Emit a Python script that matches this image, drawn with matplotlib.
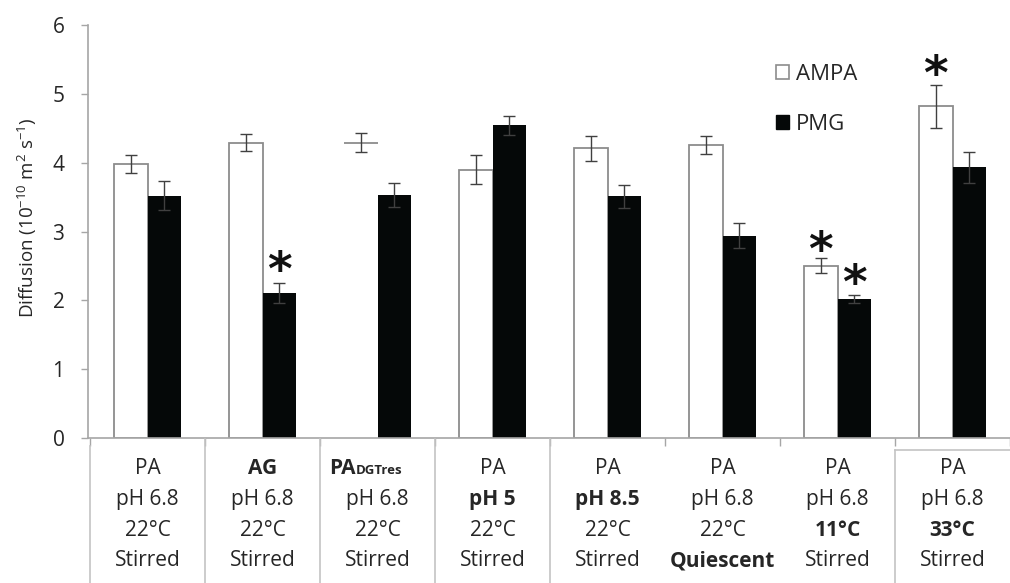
import numpy as np
import matplotlib
matplotlib.use('Agg')
import matplotlib.pyplot as plt
import matplotlib.transforms as mtransforms
from matplotlib.patches import Patch
from matplotlib.lines import Line2D

plt.rcParams['font.family'] = ['Open Sans', 'DejaVu Sans']
plt.rcParams['mathtext.fontset'] = 'custom'
plt.rcParams['mathtext.rm'] = 'Open Sans'
plt.rcParams['mathtext.it'] = 'Open Sans'
plt.rcParams['mathtext.bf'] = 'Open Sans:bold'

# Diffusion coefficients (1e-10 m2/s) and their errors, one value per condition
ampa = [3.98, 4.29, 4.29, 3.90, 4.21, 4.26, 2.50, 4.82]
ampa_err = [0.13, 0.12, 0.14, 0.21, 0.18, 0.13, 0.11, 0.31]
pmg = [3.52, 2.11, 3.53, 4.54, 3.51, 2.94, 2.02, 3.93]
pmg_err = [0.21, 0.145, 0.17, 0.14, 0.17, 0.18, 0.06, 0.22]

# Conditions shown in the table under the bars
site = ['PA', 'AG', 'PA', 'PA', 'PA', 'PA', 'PA', 'PA']
ph = ['pH 6.8', 'pH 6.8', 'pH 6.8', 'pH 5', 'pH 8.5', 'pH 6.8', 'pH 6.8', 'pH 6.8']
temp = ['22°C', '22°C', '22°C', '22°C', '22°C', '22°C', '11°C', '33°C']
mixing = ['Stirred', 'Stirred', 'Stirred', 'Stirred', 'Stirred', 'Quiescent', 'Stirred', 'Stirred']
# (column, row) of the cells that differ from the reference condition
bold_cells = [(1, 0), (2, 0), (3, 1), (4, 1), (5, 3), (6, 2), (7, 2)]

# significant differences: (column, series, star height)
stars = [(1, 'PMG', 2.56), (6, 'AMPA', 2.85), (6, 'PMG', 2.37), (7, 'AMPA', 5.42)]

W, H = 1010, 583
fig = plt.figure(figsize=(W / 100, H / 100), dpi=100)
ax_left, ax_bottom, ax_top = 88, 438, 25
ax = fig.add_axes([ax_left / W, 1 - ax_bottom / H, 1 - ax_left / W, (ax_bottom - ax_top) / H])

x = np.arange(len(ampa))
bw = 0.29
grey = '#8c8c8c'
line_grey = '#a6a6a6'

ampa_bars = ax.bar(x - bw / 2, ampa, bw, facecolor='white', edgecolor=grey, linewidth=1.3, zorder=2)
# the DGTres column has no outline on its AMPA bar, only the top edge
ampa_bars[2].set_edgecolor('white')
ax.hlines(ampa[2], 2 - bw, 2, color=grey, linewidth=1.3, zorder=3)
ax.bar(x + bw / 2, pmg, bw, color='#050808', zorder=2)

ax.errorbar(x - bw / 2, ampa, yerr=ampa_err, fmt='none', ecolor='#404040',
            elinewidth=1, capsize=4.5, capthick=1, zorder=4)
ax.errorbar(x + bw / 2, pmg, yerr=pmg_err, fmt='none', ecolor='#404040',
            elinewidth=1, capsize=4.5, capthick=1, zorder=4)

for col, series, yv in stars:
    xs = col - bw / 2 if series == 'AMPA' else col + bw / 2
    ax.annotate('*', (xs, yv), xytext=(0, -17), textcoords='offset points',
                ha='center', va='baseline', fontsize=34, fontweight='bold',
                family='DejaVu Sans', color='#111111', annotation_clip=False)

ax.set_xlim(-0.52, -0.52 + (W - ax_left) / 116.2)
ax.set_ylim(0, 6)
ax.set_yticks(range(7))
ax.tick_params(axis='y', labelsize=15, length=5, width=1, color=line_grey,
               pad=12, labelcolor='#262626')
ax.set_xticks(np.arange(-0.5, 7.6, 1.0))
ax.set_xticklabels([])
ax.tick_params(axis='x', length=6, width=1, color=line_grey)
for s in ['top', 'right']:
    ax.spines[s].set_visible(False)
for s in ['left', 'bottom']:
    ax.spines[s].set_color(line_grey)
    ax.spines[s].set_linewidth(1.2)

fig.text(27 / W, 1 - 218 / H, 'Diffusion (10$^{-10}$ m$^{2}$ s$^{-1}$)', rotation=90,
         ha='center', va='center', fontsize=13.5, color='#262626')

# legend
handles = [Patch(facecolor='white', edgecolor=grey, linewidth=1.2),
           Patch(facecolor='#050808', edgecolor='#050808')]
ax.legend(handles, ['AMPA', 'PMG'], loc='upper left', bbox_to_anchor=(776 / W, 1 - 64 / H),
          bbox_transform=fig.transFigure, frameon=False, fontsize=16,
          handlelength=0.6, handleheight=0.6, handletextpad=0.3,
          labelspacing=1.3, borderpad=0, borderaxespad=0, labelcolor='#262626')

# condition table below the axis
trans = mtransforms.blended_transform_factory(ax.transData, fig.transFigure)
rows = [site, ph, temp, mixing]
row_y = [469, 499, 530, 561]
tcolor = '#262626'
for col in range(len(site)):
    for r, labels in enumerate(rows):
        bold = (col, r) in bold_cells
        yf = 1 - row_y[r] / H
        if col == 2 and r == 0:
            split = col - 0.19
            ax.text(split, yf, labels[col], transform=trans, ha='right', va='center',
                    fontsize=15, fontweight='bold', color=tcolor)
            ax.text(split, yf - 2 / H, 'DGTres', transform=trans, ha='left', va='center',
                    fontsize=9.5, fontweight='bold', color=tcolor)
            continue
        ax.text(col, yf, labels[col], transform=trans, ha='center', va='center',
                fontsize=15, fontweight='bold' if bold else 'normal', color=tcolor)

table_grey = '#c4c4c4'
for b, top in [(-0.5, 446), (0.5, 439), (1.5, 439), (2.5, 439), (3.5, 439)]:
    fig.add_artist(Line2D([b, b], [1 - top / H, 0], transform=trans, color=table_grey, linewidth=1.2))
fig.add_artist(Line2D([6.5, 6.5], [1 - 450 / H, 0], transform=trans, color=table_grey, linewidth=1.2))
fig.add_artist(Line2D([6.5, 8.5], [1 - 450 / H, 1 - 450 / H], transform=trans, color=table_grey, linewidth=1.2))

fig.savefig('out.png', dpi=100)
